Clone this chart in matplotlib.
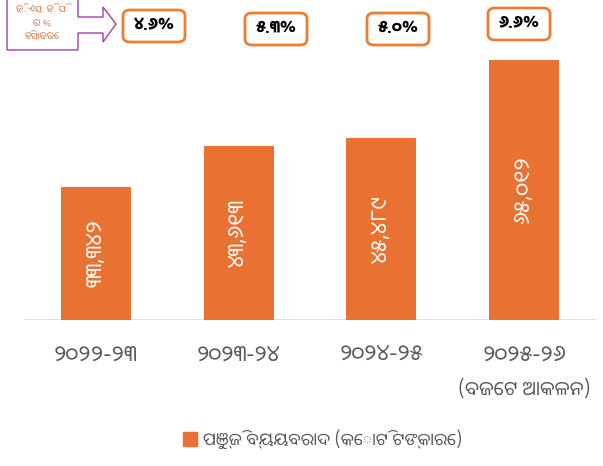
import matplotlib
matplotlib.use("Agg")
import matplotlib.pyplot as plt
from matplotlib.patches import FancyBboxPatch, Polygon, Rectangle

plt.rcParams['font.family'] = ['Noto Sans Oriya', 'Noto Sans Oriya UI', 'DejaVu Sans']
BOLD_FAMILY = ['Noto Sans Oriya UI', 'DejaVu Sans']

# data
years = ["୨୦୨୨-୨୩", "୨୦୨୩-୨୪", "୨୦୨୪-୨୫", "୨୦୨୫-୨୬"]
capex = [33342, 43613, 45489, 65012]          # crore rupees
gsdp_share = [4.6, 5.3, 5.0, 6.6]             # % of GSDP
last_note = "(ବଜେଟ ଆକଳନ)"
legend_text = "ପୁଞ୍ଜି ବ୍ୟୟବରାଦ (କୋଟି ଟଙ୍କାରେ)"
callout_lines = ["ଜି. ଏସ. ଡି. ପି.", "ର %", "ହିସାବରେ"]

ORANGE = "#E97132"
GREY = "#595959"
PURPLE = "#A040A8"

odia_digits = str.maketrans("0123456789", "୦୧୨୩୪୫୬୭୮୯")


def to_odia(s):
    return s.translate(odia_digits)


W, H = 603, 466
fig = plt.figure(figsize=(W / 100, H / 100), dpi=100)

# axes: baseline at y=320 px, top at y=5 px
ax = fig.add_axes([24.5 / W, 1 - 320 / H, 571 / W, 315 / H])
xs = range(len(years))
bars = ax.bar(xs, capex, width=0.49, color=ORANGE, zorder=2)
ax.set_xlim(-0.5, 3.5)
ax.set_ylim(0, capex[-1] * 315 / 260)
ax.axis("off")
ax.axhline(0, color="#D9D9D9", lw=1.2, zorder=1)

for x, v in zip(xs, capex):
    ax.text(x, v / 2, to_odia(f"{v:,}"), rotation=90, ha="center", va="center",
            color="white", fontsize=16)

# year labels under the axis
for x, y in zip(xs, years):
    ax.annotate(y, (x, 0), xytext=(0, -35), textcoords="offset pixels",
                ha="center", va="center", fontsize=16, color=GREY)
ax.annotate(last_note, (3, 0), xytext=(0, -70), textcoords="offset pixels",
            ha="center", va="center", fontsize=14, color=GREY)

# percentage boxes at the top (pixel coords converted to figure fraction)
box_pos = [(154, 26), (276, 29), (398, 29), (519, 24)]
for (cx, cy), p in zip(box_pos, gsdp_share):
    bw, bh = 62, 32
    fig.patches.append(FancyBboxPatch(
        ((cx - bw / 2) / W, 1 - (cy + bh / 2) / H), bw / W, bh / H,
        boxstyle="round,pad=0,rounding_size=0.012", transform=fig.transFigure,
        facecolor="white", edgecolor="#ED7D31", lw=2))
    fig.text(cx / W, 1 - cy / H, to_odia(f"{p:.1f}%"), ha="center", va="center",
             fontsize=12.5, fontweight="bold", color="black", family=BOLD_FAMILY)

# callout arrow on the left
pts = [(7, -2), (7, 50), (78, 50), (78, 33), (103, 33), (103, 42), (116, 24),
       (103, 7), (103, 17), (78, 17), (78, -2)]
fig.patches.append(Polygon([(x / W, 1 - y / H) for x, y in pts], closed=True,
                           transform=fig.transFigure, facecolor="white",
                           edgecolor=PURPLE, lw=1))
for i, line in enumerate(callout_lines):
    fig.text(42 / W, 1 - (10 + 13.5 * i) / H, line, ha="center", va="center",
             fontsize=7, color="#E07A4A")

# legend
fig.patches.append(Rectangle((183 / W, 1 - 446 / H), 14 / W, 14 / H,
                             transform=fig.transFigure, color=ORANGE))
fig.text(203 / W, 1 - 439 / H, legend_text, ha="left", va="center",
         fontsize=12.5, color=GREY)

fig.savefig("out.png", dpi=100)
